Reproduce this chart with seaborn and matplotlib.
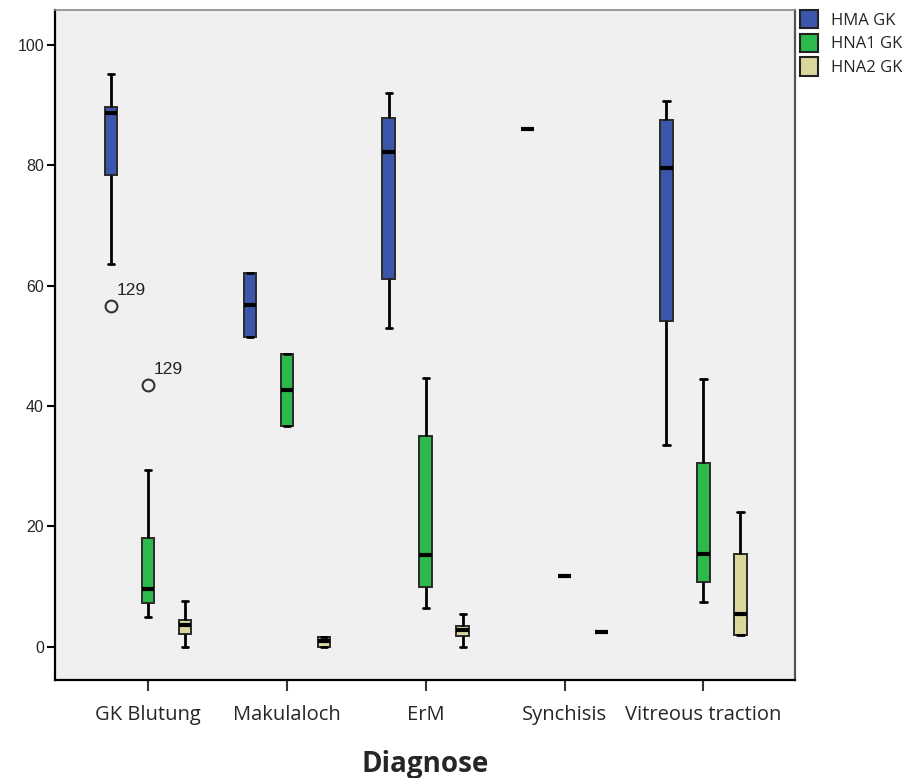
import numpy as np
import pandas as pd
import matplotlib
matplotlib.use("Agg")
import matplotlib.pyplot as plt
import seaborn as sns

# Diagnosis categories and measurement groups
categories = ["GK Blutung", "Makulaloch", "ErM", "Synchisis", "Vitreous traction"]
groups = ["HMA GK", "HNA1 GK", "HNA2 GK"]

# Five-number summaries per group (lower whisker, Q1, median, Q3, upper whisker)
hma_lo = [63.5, 51.4, 52.9, 86.0, 33.5]
hma_q1 = [78.3, 51.4, 61.1, 86.0, 54.1]
hma_med = [88.6, 56.8, 82.1, 86.0, 79.5]
hma_q3 = [89.7, 62.0, 87.9, 86.0, 87.5]
hma_hi = [95.2, 62.0, 92.0, 86.0, 90.7]

hna1_lo = [5.0, 36.6, 6.4, 11.7, 7.5]
hna1_q1 = [7.2, 36.6, 9.9, 11.7, 10.7]
hna1_med = [9.6, 42.6, 15.3, 11.7, 15.5]
hna1_q3 = [18.0, 48.7, 35.0, 11.7, 30.6]
hna1_hi = [29.3, 48.7, 44.6, 11.7, 44.4]

hna2_lo = [0.0, 0.0, 0.0, 2.4, 1.9]
hna2_q1 = [2.2, 0.0, 1.8, 2.4, 1.9]
hna2_med = [3.7, 0.9, 2.8, 2.4, 5.4]
hna2_q3 = [4.4, 1.6, 3.5, 2.4, 15.5]
hna2_hi = [7.6, 1.6, 5.5, 2.4, 22.4]

# Outlying cases: (group, category, value, case label)
outliers = [("HMA GK", "GK Blutung", 56.6, "129"),
            ("HNA1 GK", "GK Blutung", 43.5, "129")]

summaries = {
    "HMA GK": (hma_lo, hma_q1, hma_med, hma_q3, hma_hi),
    "HNA1 GK": (hna1_lo, hna1_q1, hna1_med, hna1_q3, hna1_hi),
    "HNA2 GK": (hna2_lo, hna2_q1, hna2_med, hna2_q3, hna2_hi),
}

# Build a long table of observations whose quartiles reproduce each summary
rows = []
for g in groups:
    lo, q1, med, q3, hi = summaries[g]
    for i, c in enumerate(categories):
        vals = [lo[i], lo[i], q1[i], q1[i], med[i], q3[i], q3[i], hi[i], hi[i]]
        for og, oc, ov, _ in outliers:
            if og == g and oc == c:
                if ov < lo[i]:
                    vals[0] = ov
                else:
                    vals[-1] = ov
        rows += [(c, g, v) for v in vals]
df = pd.DataFrame(rows, columns=["Diagnose", "Gruppe", "Wert"])

palette = {"HMA GK": "#3b56ab", "HNA1 GK": "#2dba4c", "HNA2 GK": "#dad69c"}

sns.set_style("white")
plt.rcParams["font.family"] = ["Liberation Sans", "DejaVu Sans"]

fig = plt.figure(figsize=(9.08, 7.78), dpi=100)
ax = fig.add_axes([0.0606, 0.126, 0.8150, 0.8615])
ax.set_facecolor("#f0f0f0")

box_width = 0.8
sns.boxplot(data=df, x="Diagnose", y="Wert", hue="Gruppe",
            order=categories, hue_order=groups, palette=palette,
            saturation=1, width=box_width, gap=0.66, whis=1.5, ax=ax,
            linecolor="#2a2a2a", linewidth=1.4,
            medianprops=dict(color="black", linewidth=3, solid_capstyle="butt"),
            whiskerprops=dict(color="black", linewidth=2),
            capprops=dict(color="black", linewidth=2),
            flierprops=dict(marker="o", markersize=8.5, markerfacecolor="none",
                            markeredgecolor="#333333", markeredgewidth=1.5))

# Case labels next to outliers
step = box_width / len(groups)
for og, oc, ov, lab in outliers:
    xpos = categories.index(oc) + (groups.index(og) - 1) * step
    ax.annotate(lab, (xpos, ov), xytext=(4, 6), textcoords="offset points",
                ha="left", va="bottom", fontsize=12.5, color="#222222")

ax.set_xlim(-0.67, 4.66)
ax.set_ylim(-5.5, 105.8)
ax.set_yticks([0, 20, 40, 60, 80, 100])
ax.tick_params(axis="y", direction="out", length=6, width=1.5, labelsize=11.5,
               left=True, pad=2, color="black")
ax.tick_params(axis="x", direction="out", length=8, width=1.5, bottom=True,
               pad=10, color="#333333")
for t in ax.get_xticklabels():
    t.set_fontfamily(["Open Sans", "DejaVu Sans"])
    t.set_fontsize(14.5)
ax.set_xlabel("Diagnose", fontsize=20, fontweight="bold",
              family=["Open Sans", "DejaVu Sans"], labelpad=18)
ax.set_ylabel("")

for side in ["left", "bottom"]:
    ax.spines[side].set_color("black")
    ax.spines[side].set_linewidth(1.6)
ax.spines["right"].set_color("#555555")
ax.spines["right"].set_linewidth(1.6)
ax.spines["top"].set_color("#888888")
ax.spines["top"].set_linewidth(1.2)

handles, labels = ax.get_legend_handles_labels()
for h in handles:
    h.set_edgecolor("#222222")
    h.set_linewidth(1.5)
ax.legend(handles, labels, loc="upper left", bbox_to_anchor=(0.995, 1.012),
          frameon=False, handlelength=1.1, handleheight=1.3,
          handletextpad=0.75, labelspacing=0.3, borderaxespad=0.3,
          borderpad=0.2,
          prop={"family": ["Open Sans", "DejaVu Sans"], "size": 12})

fig.savefig("out.png", dpi=100, facecolor="white")
